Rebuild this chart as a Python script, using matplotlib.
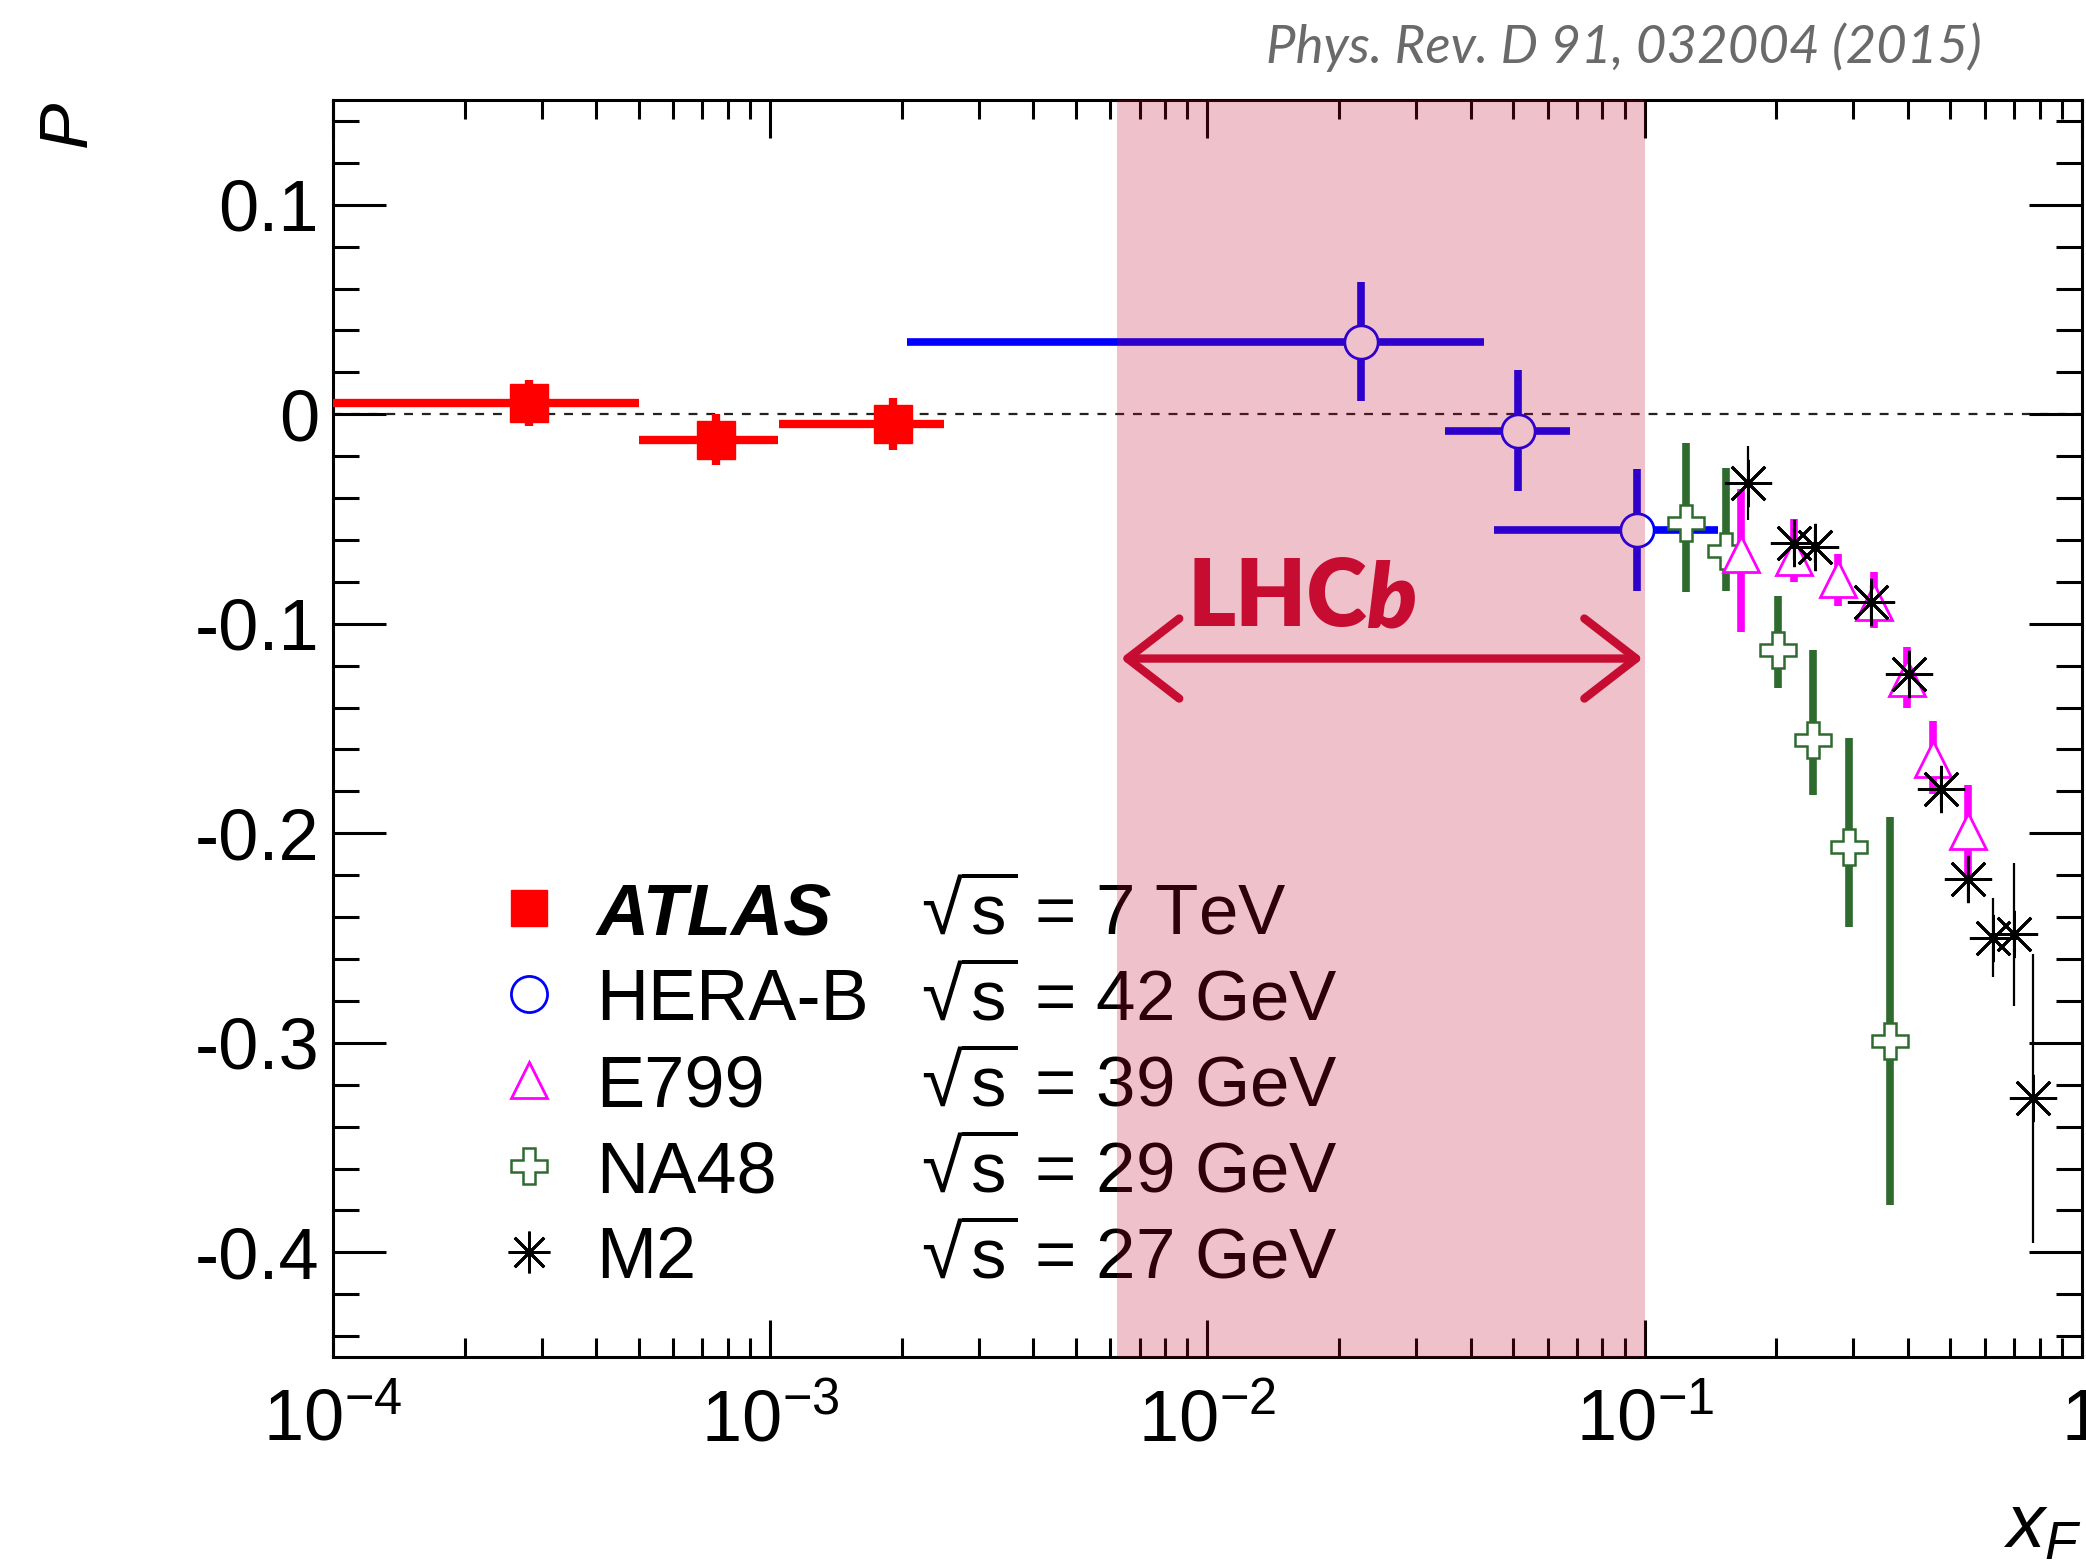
import numpy as np
import matplotlib
matplotlib.use('Agg')
import matplotlib.pyplot as plt
from matplotlib.ticker import LogLocator, MultipleLocator, NullFormatter

plt.rcParams['font.family'] = 'Liberation Sans'
plt.rcParams['mathtext.fontset'] = 'custom'
plt.rcParams['mathtext.rm'] = 'Liberation Sans'
plt.rcParams['mathtext.it'] = 'Liberation Sans:italic'
plt.rcParams['mathtext.bf'] = 'Liberation Sans:bold'
plt.rcParams['mathtext.fallback'] = None
plt.rcParams['axes.unicode_minus'] = False

# ATLAS sqrt(s) = 7 TeV
atlas_x = np.array([2.81e-4, 7.52e-4, 1.91e-3])
atlas_xlo = np.array([1.0e-4, 5.0e-4, 1.05e-3])
atlas_xhi = np.array([5.0e-4, 1.04e-3, 2.5e-3])
atlas_p = np.array([0.0055, -0.0121, -0.0046])
atlas_err = np.array([0.011, 0.012, 0.0125])

# HERA-B
herab_x = np.array([0.0225, 0.0513, 0.0962])
herab_xlo = np.array([2.05e-3, 0.0349, 0.0453])
herab_xhi = np.array([0.0430, 0.0675, 0.147])
herab_p = np.array([0.0347, -0.0078, -0.0552])
herab_err = np.array([0.0283, 0.029, 0.029])

# E799
e799_x = np.array([0.1662, 0.2193, 0.2773, 0.3336, 0.3973, 0.4557, 0.5479])
e799_p = np.array([-0.0667, -0.068, -0.0786, -0.0895, -0.1257, -0.1645, -0.1988])
e799_lo = np.array([0.037, 0.012, 0.013, 0.0127, 0.0145, 0.0168, 0.022])
e799_hi = np.array([0.031, 0.018, 0.012, 0.0144, 0.0145, 0.018, 0.022])

# NA48
na48_x = np.array([0.1240, 0.1536, 0.2014, 0.2422, 0.2938, 0.3642])
na48_p = np.array([-0.0520, -0.0655, -0.1126, -0.1557, -0.2067, -0.2993])
na48_lo = np.array([0.0327, 0.019, 0.018, 0.026, 0.038, 0.078])
na48_hi = np.array([0.0383, 0.040, 0.026, 0.043, 0.052, 0.107])

# M2
m2_x = np.array([0.1721, 0.2193, 0.2457, 0.3295, 0.4031, 0.4764, 0.5479, 0.6250, 0.6979, 0.7714])
m2_p = np.array([-0.0328, -0.0616, -0.0632, -0.0895, -0.1238, -0.1788, -0.222, -0.2498, -0.2483, -0.3264])
m2_err = np.array([0.0175, 0.008, 0.008, 0.008, 0.008, 0.008, 0.011, 0.019, 0.034, 0.069])

# LHCb acceptance band and arrow
band_lo, band_hi = 6.21e-3, 0.1
arrow_y = -0.1166
lhcb_text_x, lhcb_text_y = 9.0e-3, -0.1013

xtick_vals = [1e-4, 1e-3, 1e-2, 1e-1, 1]
xtick_labels = ['$10^{-4}$', '$10^{-3}$', '$10^{-2}$', '$10^{-1}$', '1']
ytick_vals = [-0.4, -0.3, -0.2, -0.1, 0, 0.1]
ytick_labels = ['-0.4', '-0.3', '-0.2', '-0.1', '0', '0.1']

leg_names = ['ATLAS', 'HERA-B', 'E799', 'NA48', 'M2']
leg_energy = ['7 TeV', '42 GeV', '39 GeV', '29 GeV', '27 GeV']

green = '#2f6a2f'
lhcb_red = '#c60c30'

fig = plt.figure(figsize=(20.86, 15.62), dpi=100)
ax = fig.add_axes([0.1596, 0.1312, 0.9981 - 0.1596, 0.936 - 0.1312])
ax.set_xscale('log')
ax.set_xlim(1e-4, 1)
ax.set_ylim(-0.45, 0.15)

ax.axhline(0, color='#222222', lw=1.6, ls=(0, (4, 4)), zorder=1)

ax.errorbar(atlas_x, atlas_p, xerr=[atlas_x - atlas_xlo, atlas_xhi - atlas_x], yerr=atlas_err,
            fmt='s', color='red', ms=27, elinewidth=6, capsize=0, zorder=3)
ax.errorbar(herab_x, herab_p, xerr=[herab_x - herab_xlo, herab_xhi - herab_x], yerr=herab_err,
            fmt='o', mfc='white', mec='blue', mew=2, ms=24, ecolor='blue', elinewidth=5.5,
            capsize=0, zorder=3)
ax.errorbar(na48_x, na48_p, yerr=[na48_lo, na48_hi], fmt='P', mfc='white', mec=green, mew=1.8,
            ms=26, ecolor=green, elinewidth=5.5, capsize=0, zorder=4)
ax.errorbar(e799_x, e799_p, yerr=[e799_lo, e799_hi], fmt='^', mfc='white', mec='magenta', mew=2,
            ms=26, ecolor='magenta', elinewidth=5.5, capsize=0, zorder=5)
ax.errorbar(m2_x, m2_p, yerr=m2_err, marker=(8, 2, 0), ls='none', color='black', mew=2,
            ms=34, elinewidth=1.6, capsize=0, zorder=6)

# legend, drawn by hand in ROOT style
leg_styles = [dict(marker='s', mfc='red', mec='red', mew=1, ms=26),
              dict(marker='o', mfc='none', mec='blue', mew=2, ms=26),
              dict(marker='^', mfc='none', mec='magenta', mew=2, ms=26),
              dict(marker='P', mfc='none', mec=green, mew=1.8, ms=26),
              dict(marker=(8, 2, 0), mec='black', mew=2, ms=30)]
for i, name in enumerate(leg_names):
    yc = 0.357 - 0.0684 * i
    ax.plot([0.112], [yc], transform=ax.transAxes, ls='none', clip_on=False, zorder=3,
            **leg_styles[i])
    if i == 0:
        ax.text(0.1504, yc - 0.0207, name, transform=ax.transAxes, fontsize=52,
                fontweight='bold', fontstyle='italic', va='baseline', zorder=3)
    else:
        ax.text(0.1504, yc - 0.0207, name, transform=ax.transAxes, fontsize=52,
                va='baseline', zorder=3)
    ax.text(0.3363, yc - 0.0207, r'$\sqrt{\mathrm{s}}$ = ' + leg_energy[i], transform=ax.transAxes,
            fontsize=51, va='baseline', zorder=3)

ax.axvspan(band_lo, band_hi, color='#c1002a', alpha=0.243, lw=0, zorder=10)

ax.annotate('', xy=(band_hi * 0.99, arrow_y), xytext=(band_lo * 1.02, arrow_y),
            arrowprops=dict(arrowstyle='<->,head_length=0.93,head_width=0.72', color=lhcb_red,
                            lw=6, mutation_scale=40, shrinkA=0, shrinkB=0), zorder=12)
t = ax.text(lhcb_text_x, lhcb_text_y, 'LHC', fontsize=66, family='Lato', fontweight='heavy',
            color=lhcb_red, va='baseline', zorder=12)
ax.annotate('b', xy=(1, 0), xycoords=t, fontsize=66, family='Lato', fontweight='heavy',
            fontstyle='italic', color=lhcb_red, ha='left', va='bottom', zorder=12)

ax.set_xticks(xtick_vals)
ax.set_xticklabels(xtick_labels)
ax.xaxis.set_minor_locator(LogLocator(base=10, subs=np.arange(2, 10)))
ax.xaxis.set_minor_formatter(NullFormatter())
ax.set_yticks(ytick_vals)
ax.set_yticklabels(ytick_labels)
ax.yaxis.set_minor_locator(MultipleLocator(0.02))

ax.tick_params(which='both', direction='in', top=True, right=True, width=2.2, labelsize=52)
ax.tick_params(axis='x', which='major', length=27, pad=22)
ax.tick_params(axis='x', which='minor', length=14)
ax.tick_params(axis='y', which='major', length=38, pad=10)
ax.tick_params(axis='y', which='minor', length=19)
for s in ax.spines.values():
    s.set_linewidth(2.2)

fig.text(68 / 2086, 1 - 124 / 1562, 'P', rotation=90, fontsize=50, fontstyle='italic',
         ha='center', va='center')
fig.text(2003 / 2086, 0.0096, r'$x_{F}$', fontsize=55, ha='left', va='baseline')
fig.text(0.9502, 0.9597, 'Phys. Rev. D 91, 032004 (2015)', ha='right', va='baseline',
         fontsize=38, family='Lato', fontstyle='italic', color='#6a6a6a')

fig.savefig('out.png', dpi=100)
